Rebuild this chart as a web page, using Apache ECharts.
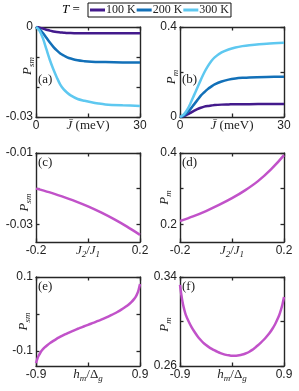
<!DOCTYPE html>
<html>
<head>
<meta charset="utf-8">
<script src="https://cdn.jsdelivr.net/npm/echarts@6/dist/echarts.min.js"></script>
<style>html,body{margin:0;padding:0;background:#fff;}#c{width:299px;height:391px;}</style>
</head>
<body>
<div id="c"></div>
<script>
// ---- data ----
const tempNames = ['100 K', '200 K', '300 K'];
const jbar = [0, 1, 2, 3, 4, 5, 6, 7, 8, 9, 10, 12, 14, 16, 18, 20, 25, 30];
const psm100 = [0, -0.0002, -0.0005, -0.0009, -0.0012, -0.0015, -0.0017, -0.0018, -0.0019, -0.0020, -0.0020, -0.0021, -0.0021, -0.0021, -0.0021, -0.0021, -0.0021, -0.0021];
const psm200 = [0, -0.0007, -0.0020, -0.0036, -0.0052, -0.0066, -0.0078, -0.0088, -0.0095, -0.0101, -0.0105, -0.0111, -0.0114, -0.0116, -0.0117, -0.0117, -0.0118, -0.0118];
const psm300 = [0, -0.0012, -0.0038, -0.0074, -0.0110, -0.0141, -0.0168, -0.0192, -0.0208, -0.0219, -0.0228, -0.0240, -0.0246, -0.0251, -0.0255, -0.0258, -0.0261, -0.0263];
const pm100 = [0, 0.003, 0.010, 0.018, 0.027, 0.035, 0.041, 0.046, 0.049, 0.051, 0.053, 0.055, 0.056, 0.057, 0.057, 0.057, 0.058, 0.058];
const pm200 = [0, 0.006, 0.018, 0.035, 0.055, 0.075, 0.095, 0.110, 0.124, 0.135, 0.145, 0.158, 0.166, 0.171, 0.174, 0.176, 0.178, 0.179];
const pm300 = [0, 0.010, 0.030, 0.060, 0.095, 0.130, 0.165, 0.198, 0.225, 0.248, 0.265, 0.287, 0.300, 0.309, 0.315, 0.319, 0.326, 0.330];

const j2j1 = [-0.2, -0.15, -0.1, -0.05, 0, 0.05, 0.1, 0.15, 0.2];
const psmJ2 = [-0.0200, -0.0210, -0.0222, -0.0235, -0.0250, -0.0267, -0.0286, -0.0307, -0.0330];
const pmJ2 = [0.209, 0.222, 0.237, 0.254, 0.273, 0.295, 0.321, 0.354, 0.394];

const hm = [-0.900, -0.875, -0.850, -0.825, -0.80, -0.75, -0.70, -0.65, -0.60, -0.55, -0.50, -0.45, -0.40, -0.35, -0.30, -0.25, -0.20, -0.15, -0.10, -0.05,
  0.00, 0.05, 0.10, 0.15, 0.20, 0.25, 0.30, 0.35, 0.40, 0.45, 0.50, 0.55, 0.60, 0.65, 0.70, 0.75, 0.80, 0.825, 0.850, 0.875, 0.900];
const psmH = [-0.1320, -0.1200, -0.1110, -0.1042, -0.0984, -0.0900, -0.0834, -0.0775, -0.0722, -0.0674, -0.0630, -0.0589, -0.0550, -0.0513, -0.0478, -0.0444, -0.0412, -0.0381, -0.0350, -0.0320,
  -0.0290, -0.0260, -0.0230, -0.0199, -0.0168, -0.0136, -0.0102, -0.0067, -0.0030, 0.0009, 0.0050, 0.0094, 0.0142, 0.0195, 0.0254, 0.0322, 0.0410, 0.0465, 0.0540, 0.0650, 0.0810];
const pmH = [0.3330, 0.3235, 0.3160, 0.3105, 0.3060, 0.3000, 0.2950, 0.2908, 0.2870, 0.2838, 0.2810, 0.2788, 0.2770, 0.2754, 0.2740, 0.2727, 0.2716, 0.2707, 0.2700, 0.2696,
  0.2693, 0.2693, 0.2695, 0.2699, 0.2705, 0.2715, 0.2728, 0.2745, 0.2765, 0.2786, 0.2810, 0.2836, 0.2865, 0.2897, 0.2935, 0.2980, 0.3035, 0.3068, 0.3110, 0.3158, 0.3220];

// ticks and tick labels
const xTicksA = [0, 15, 30], xLabelsA = [0, 30];
const yTicksA = [0, -0.01, -0.02, -0.03], yLabelsA = [0, -0.03];
const yTicksB = [0, 0.2, 0.4], yLabelsB = [0, 0.4];
const xTicksC = [-0.2, 0, 0.2], xLabelsC = [-0.2, 0.2];
const yTicksC = [-0.01, -0.02, -0.03], yLabelsC = [-0.01, -0.03];
const yTicksD = [0.2, 0.3, 0.4], yLabelsD = [0.2, 0.4];
const xTicksE = [-0.9, 0, 0.9], xLabelsE = [-0.9, 0.9];
const yTicksE = [0.1, 0, -0.1], yLabelsE = [0.1, -0.1];
const yTicksF = [0.26, 0.30, 0.34], yLabelsF = [0.26, 0.34];

// ---- styling ----
const tempColors = ['#431a8c', '#1270b8', '#5ec8f0'];
const magenta = '#c152c9';
const axisColor = '#262626';
const serif = 'Liberation Serif, DejaVu Serif, serif';
const sans = 'Liberation Sans, Arial, sans-serif';

const rich = {
  i: { fontFamily: serif, fontStyle: 'italic', fontSize: 13, color: '#222', lineHeight: 16, verticalAlign: 'middle' },
  n: { fontFamily: serif, fontSize: 13, color: '#222', lineHeight: 16, verticalAlign: 'middle' },
  s: { fontFamily: serif, fontStyle: 'italic', fontSize: 9, color: '#222', lineHeight: 9, verticalAlign: 'bottom' }
};

const panels = [
  { left: 36, top: 27, h: 90, xr: [0, 30], yr: [-0.03, 0], xt: xTicksA, xl: xLabelsA, yt: yTicksA, yl: yLabelsA,
    xn: '{i|J\u0304}{n| (meV)}', yn: '{i|P}{s|sm}', yg: 0, yp: [0, 0, 0, 12], lab: '(a)' },
  { left: 180, top: 27, h: 90, xr: [0, 30], yr: [0, 0.4], xt: xTicksA, xl: xLabelsA, yt: yTicksB, yl: yLabelsB,
    xn: '{i|J\u0304}{n| (meV)}', yn: '{i|P}{s|m}', yg: 0, yp: [0, 10, 0, 0], lab: '(b)' },
  { left: 36, top: 153, h: 89, xr: [-0.2, 0.2], yr: [-0.035, -0.01], xt: xTicksC, xl: xLabelsC, yt: yTicksC, yl: yLabelsC,
    xn: '{i|J}{s|2}{n|/}{i|J}{s|1}', yn: '{i|P}{s|sm}', yg: 3, yp: [0, 10, 0, 0], lab: '(c)' },
  { left: 180, top: 153, h: 89, xr: [-0.2, 0.2], yr: [0.15, 0.4], xt: xTicksC, xl: xLabelsC, yt: yTicksD, yl: yLabelsD,
    xn: '{i|J}{s|2}{n|/}{i|J}{s|1}', yn: '{i|P}{s|m}', yg: 7, yp: [0, 0, 0, 0], lab: '(d)' },
  { left: 36, top: 277, h: 89, xr: [-0.9, 0.9], yr: [-0.14, 0.1], xt: xTicksE, xl: xLabelsE, yt: yTicksE, yl: yLabelsE,
    xn: '{i|h}{s|m}{n|/Δ}{s|g}', yn: '{i|P}{s|sm}', yg: 4, yp: [0, 0, 0, 0], lab: '(e)' },
  { left: 180, top: 277, h: 89, xr: [-0.9, 0.9], yr: [0.26, 0.34], xt: xTicksE, xl: xLabelsE, yt: yTicksF, yl: yLabelsF,
    xn: '{i|h}{s|m}{n|/Δ}{s|g}', yn: '{i|P}{s|m}', yg: 7, yp: [0, 6, 0, 0], lab: '(f)' }
];

const grid = [], xAxis = [], yAxis = [], graphic = [];
panels.forEach((p, k) => {
  grid.push({ left: p.left, top: p.top, width: 104, height: p.h, containLabel: false });
  const line = { show: true, onZero: false, lineStyle: { color: axisColor, width: 1.4 } };
  const tick = (vals) => ({ show: true, inside: true, length: 3.5, customValues: vals, lineStyle: { color: axisColor, width: 1.3 } });
  xAxis.push({
    type: 'value', gridIndex: k, position: 'bottom', min: p.xr[0], max: p.xr[1],
    axisLine: line, axisTick: tick(p.xt), splitLine: { show: false },
    axisLabel: { show: true, customValues: p.xl, margin: 3, fontFamily: sans, fontSize: 12, color: '#222' },
    name: p.xn, nameLocation: 'middle', nameGap: 1, nameMoveOverlap: false, nameTextStyle: { rich: rich }
  });
  xAxis.push({
    type: 'value', gridIndex: k, position: 'top', min: p.xr[0], max: p.xr[1],
    axisLine: line, axisTick: tick(p.xt), splitLine: { show: false }, axisLabel: { show: false }
  });
  yAxis.push({
    type: 'value', gridIndex: k, position: 'left', min: p.yr[0], max: p.yr[1],
    axisLine: line, axisTick: tick(p.yt), splitLine: { show: false },
    axisLabel: { show: true, customValues: p.yl, margin: 3, fontFamily: sans, fontSize: 12, color: '#222' },
    name: p.yn, nameLocation: 'middle', nameRotate: 90, nameGap: p.yg, nameMoveOverlap: false,
    nameTextStyle: { rich: rich, padding: p.yp }
  });
  yAxis.push({
    type: 'value', gridIndex: k, position: 'right', min: p.yr[0], max: p.yr[1],
    axisLine: line, axisTick: tick(p.yt), splitLine: { show: false }, axisLabel: { show: false }
  });
  graphic.push({
    type: 'text', left: p.left + 2, top: p.lab === '(a)' || p.lab === '(b)' ? 73 : p.top + 3,
    style: { text: p.lab, fontFamily: serif, fontSize: 13, fill: '#222' }
  });
});
graphic.push({
  type: 'text', left: 62, top: 3,
  style: { rich: rich, text: '{i|T}{n| =}' }
});

const pairs = (xs, ys) => xs.map((x, i) => [x, ys[i]]);
const lineSeries = (name, xs, ys, color, panel) => ({
  type: 'line', name: name, xAxisIndex: panel * 2, yAxisIndex: panel * 2,
  data: pairs(xs, ys), showSymbol: false, smooth: 0.3,
  lineStyle: { color: color, width: 2.5 }, itemStyle: { color: color }, silent: true
});

const series = [
  lineSeries(tempNames[0], jbar, psm100, tempColors[0], 0),
  lineSeries(tempNames[1], jbar, psm200, tempColors[1], 0),
  lineSeries(tempNames[2], jbar, psm300, tempColors[2], 0),
  lineSeries(tempNames[0], jbar, pm100, tempColors[0], 1),
  lineSeries(tempNames[1], jbar, pm200, tempColors[1], 1),
  lineSeries(tempNames[2], jbar, pm300, tempColors[2], 1),
  lineSeries('c', j2j1, psmJ2, magenta, 2),
  lineSeries('d', j2j1, pmJ2, magenta, 3),
  lineSeries('e', hm, psmH, magenta, 4),
  lineSeries('f', hm, pmH, magenta, 5)
];

const chart = echarts.init(document.getElementById('c'), null, { renderer: 'canvas' });
chart.setOption({
  animation: false,
  backgroundColor: '#fff',
  legend: {
    data: tempNames, left: 88, top: 3, orient: 'horizontal',
    icon: 'rect', itemWidth: 15, itemHeight: 3, itemGap: 1,
    padding: [1, 2, 1, 2], borderColor: '#111', borderWidth: 1,
    textStyle: { fontFamily: serif, fontSize: 12, color: '#222', padding: [0, 0, 0, -4] },
    selectedMode: false
  },
  grid: grid, xAxis: xAxis, yAxis: yAxis, series: series, graphic: graphic
});
</script>
</body>
</html>
